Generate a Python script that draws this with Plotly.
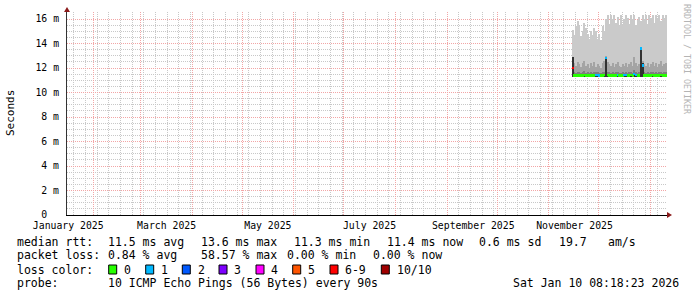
import plotly.graph_objects as go
import pandas as pd
import numpy as np

# ---------------- data ----------------
bin_start = "2025-11-15"
n_bins = 57

rtt_max = [15.1, 14.7, 15.4, 15.8, 15.5, 14.6, 15.0, 15.7, 15.3, 14.8,
           14.4, 15.0, 14.7, 15.3, 15.0, 14.4, 14.8, 14.3, 15.4, 15.0,
           16.0, 16.3, 15.6, 16.3, 16.0, 16.3, 15.7, 16.2, 15.4, 16.3,
           15.5, 16.0, 16.3, 16.1, 15.6, 16.3, 16.0, 16.3, 15.5, 15.9,
           16.2, 15.8, 16.3, 16.0, 16.3, 15.6, 16.3, 16.1, 16.3, 15.7,
           16.3, 16.0, 16.3, 15.8, 16.3, 16.1, 16.3]
rtt_p9 = [12.6, 12.4, 12.2, 12.5, 12.3, 12.1, 12.4, 12.6, 12.2, 12.3,
          12.0, 12.4, 12.2, 12.5, 12.1, 12.3, 12.2, 12.0, 12.4, 12.6,
          13.0, 12.5, 12.3, 12.2, 12.4, 12.1, 12.3, 12.5, 12.2, 12.1,
          12.3, 12.2, 12.4, 12.1, 12.3, 12.5, 12.2, 12.9, 12.4, 12.2,
          12.3, 13.1, 12.6, 12.3, 12.2, 12.4, 12.1, 12.3, 12.5, 12.2,
          12.4, 12.1, 12.3, 12.6, 12.2, 12.3, 12.4]
rtt_p8 = [11.75, 11.65, 11.6, 11.7, 11.65, 11.6, 11.65, 11.75, 11.6, 11.65,
          11.6, 11.65, 11.6, 11.7, 11.65, 11.65, 11.6, 11.6, 11.65, 11.7,
          12.0, 11.7, 11.65, 11.6, 11.65, 11.6, 11.65, 11.7, 11.6, 11.6,
          11.65, 11.6, 11.65, 11.6, 11.65, 11.7, 11.6, 11.8, 11.65, 11.6,
          11.65, 12.1, 11.75, 11.65, 11.6, 11.65, 11.6, 11.65, 11.7, 11.6,
          11.65, 11.6, 11.65, 11.7, 11.6, 11.65, 11.65]
rtt_p7 = [11.52, 11.5, 11.49, 11.5, 11.5, 11.49, 11.5, 11.52, 11.49, 11.5,
          11.49, 11.5, 11.49, 11.5, 11.52, 11.52, 11.49, 11.49, 11.5, 11.52,
          11.8, 11.52, 11.5, 11.49, 11.5, 11.49, 11.5, 11.52, 11.49, 11.49,
          11.5, 11.52, 11.52, 11.49, 11.5, 11.52, 11.49, 11.6, 11.52, 11.49,
          11.5, 11.9, 11.55, 11.5, 11.49, 11.5, 11.49, 11.5, 11.52, 11.49,
          11.5, 11.49, 11.5, 11.52, 11.49, 11.5, 11.5]
rtt_p6 = [12.9, 11.46, 11.45, 11.46, 11.46, 11.45, 11.46, 11.47, 11.45, 11.46,
          11.45, 11.46, 11.45, 11.46, 11.48, 11.48, 11.46, 11.45, 11.46, 11.47,
          12.7, 11.48, 11.46, 11.45, 11.46, 11.45, 11.46, 11.48, 11.45, 11.45,
          11.46, 11.48, 11.48, 11.45, 11.46, 11.47, 11.45, 11.55, 11.48, 11.45,
          11.46, 13.7, 12.4, 11.46, 11.45, 11.46, 11.45, 11.46, 11.47, 11.45,
          11.46, 11.45, 11.46, 11.47, 11.45, 11.46, 11.46]
rtt_median = [12.0, 11.4, 11.38, 11.4, 11.39, 11.37, 11.4, 11.41, 11.38, 11.39,
              11.37, 11.4, 11.38, 11.39, 11.42, 11.42, 11.39, 11.37, 11.4, 11.41,
              12.8, 11.42, 11.39, 11.37, 11.4, 11.38, 11.39, 11.42, 11.38, 11.37,
              11.39, 11.42, 11.42, 11.37, 11.39, 11.41, 11.38, 11.5, 11.42, 11.38,
              11.39, 13.6, 12.2, 11.4, 11.38, 11.39, 11.37, 11.39, 11.41, 11.38,
              11.39, 11.38, 11.39, 11.41, 11.38, 11.39, 11.4]
rtt_min = [11.25, 11.26, 11.25, 11.27, 11.26, 11.24, 11.26, 11.27, 11.25, 11.26,
           11.24, 11.26, 11.25, 11.26, 11.28, 11.28, 11.26, 11.24, 11.26, 11.27,
           11.3, 11.28, 11.26, 11.24, 11.26, 11.25, 11.26, 11.28, 11.25, 11.24,
           11.26, 11.28, 11.28, 11.24, 11.26, 11.27, 11.25, 11.3, 11.28, 11.25,
           11.26, 11.3, 11.28, 11.26, 11.25, 11.26, 11.24, 11.26, 11.27, 11.25,
           11.26, 11.25, 11.26, 11.27, 11.25, 11.26, 11.26]
loss_count = [7, 0, 0, 0, 0, 0, 0, 0, 0, 0,
              0, 0, 0, 0, 1, 1, 1, 0, 0, 0,
              1, 0, 0, 0, 0, 0, 0, 1, 0, 0,
              0, 1, 1, 0, 0, 0, 0, 1, 1, 0,
              0, 1, 1, 0, 0, 0, 0, 0, 0, 0,
              0, 0, 0, 0, 0, 0, 0]

month_starts = ["2025-02-01", "2025-03-01", "2025-04-01", "2025-05-01", "2025-06-01",
                "2025-07-01", "2025-08-01", "2025-09-01", "2025-10-01", "2025-11-01",
                "2025-12-01", "2026-01-01"]
label_dates = ["2025-01-16 18:00", "2025-03-16 18:00", "2025-05-16 12:00",
               "2025-07-16 12:00", "2025-09-16 18:00", "2025-11-16 12:00"]
label_text = ["January 2025", "March 2025", "May 2025", "July 2025",
              "September 2025", "November 2025"]
y_ticks = [0, 2, 4, 6, 8, 10, 12, 14, 16]
y_labels = ["0\u00a0\u00a0", "2 m", "4 m", "6 m", "8 m", "10 m", "12 m", "14 m", "16 m"]

loss_labels = ["0", "1", "2", "3", "4", "5", "6-9", "10/10"]
loss_colors = ["#26ff00", "#00b8ff", "#0059ff", "#7e00ff", "#ff00ff", "#ff5500", "#ff0000", "#a00000"]
smoke_colors = ["#cacaca", "#a4a4a4", "#7e7e7e", "#585858", "#323232"]

# ---------------- geometry ----------------
W, H = 697, 297
L, R, T, B = 67, 30, 12, 82
PW, PH = W - L - R, H - T - B
MONO = "DejaVu Sans Mono"
X_RANGE = ["2025-01-16", "2026-01-11"]
Y_TOP = PH / 12.25


def px(x):
    return (x - L) / PW


def py(y):
    return (T + PH - y) / PH


centers = pd.date_range(bin_start, periods=n_bins, freq="D") + pd.Timedelta(hours=12)
day_ms = 86400000

# minor grid positions (weekly on Mondays, every 0.5 ms)
week_lines = [d.strftime("%Y-%m-%d") for d in pd.date_range("2025-01-20", "2026-01-11", freq="7D")]
y_minor = [float(v) for v in np.arange(0.5, Y_TOP, 0.5) if v % 2 != 0]

fig = go.Figure()
layers = [rtt_max, rtt_p9, rtt_p8, rtt_p7, rtt_p6]
for hi, col in zip(layers, smoke_colors):
    fig.add_bar(x=centers, base=rtt_min, y=[h - l for h, l in zip(hi, rtt_min)],
                width=day_ms, marker=dict(color=col, line=dict(width=0)),
                showlegend=False, hoverinfo="skip")


def loss_idx(c):
    if c <= 5:
        return c
    if c < 10:
        return 6
    return 7


half = 0.1
fig.add_bar(x=centers, base=[m - half for m in rtt_median], y=[2 * half] * n_bins,
            width=day_ms,
            marker=dict(color=[loss_colors[loss_idx(c)] for c in loss_count], line=dict(width=0)),
            showlegend=False, hoverinfo="skip")

# empty trace to register the label axis
fig.add_scatter(x=[], y=[], xaxis="x2", showlegend=False)

red_grid = "#f2a6a6"
grey_grid = "#c8c8c8"
DASH = "1px,1px"

fig.update_layout(
    width=W, height=H, autosize=False,
    margin=dict(l=L, r=R, t=T, b=B),
    paper_bgcolor="white", plot_bgcolor="white",
    barmode="overlay", bargap=0,
    font=dict(family=MONO, size=11.5, color="black"),
    xaxis=dict(type="date", range=X_RANGE,
               tickmode="array", tickvals=month_starts, showticklabels=False,
               showgrid=True, gridcolor=red_grid, griddash=DASH, gridwidth=1,
               minor=dict(tickmode="array", tickvals=week_lines, showgrid=True,
                          gridcolor=grey_grid, griddash=DASH, gridwidth=1, ticks=""),
               showline=True, linecolor="black", linewidth=1, ticks="",
               zeroline=False, fixedrange=True),
    xaxis2=dict(type="date", range=X_RANGE, overlaying="x",
                anchor="y", side="bottom", tickmode="array", tickvals=label_dates,
                ticktext=label_text, showgrid=False, showline=False, ticks="",
                ticklabelstandoff=3,
                tickfont=dict(family=MONO, size=9.8, color="black"), zeroline=False),
    yaxis=dict(range=[0, Y_TOP], tickmode="array", tickvals=y_ticks, ticktext=y_labels,
               showgrid=True, gridcolor=red_grid, griddash=DASH, gridwidth=1,
               minor=dict(tickmode="array", tickvals=y_minor, showgrid=True,
                          gridcolor=grey_grid, griddash=DASH, gridwidth=1, ticks=""),
               showline=True, linecolor="#333333", linewidth=1, ticks="",
               ticklabelstandoff=5,
               tickfont=dict(family=MONO, size=9.8, color="black"),
               zeroline=False, fixedrange=True),
)

ann = []


def text(x, y, s, anchor="left", size=11.5, color="black", angle=0):
    ann.append(dict(x=px(x), y=py(y), xref="paper", yref="paper", text=s, showarrow=False,
                    xanchor=anchor, yanchor="middle", borderpad=0, textangle=angle,
                    font=dict(family=MONO, size=size, color=color)))


# axis title and watermark
text(11, 113, "Seconds", anchor="center", size=11, angle=-90)
text(687, 59, "RRDTOOL / TOBI OETIKER", anchor="center", size=8.3, color="#b4b4b4", angle=90)

# legend rows
r1, r2, r3, r4 = 241.5, 255, 269.5, 283
text(16, r1, "median rtt:")
for x, s in [(107.3, "11.5 ms avg"), (200.3, "13.6 ms max"), (293.3, "11.3 ms min"),
             (385.7, "11.4 ms now"), (478.3, "0.6 ms sd"), (558.3, "19.7"), (606.7, "am/s")]:
    text(x, r1, s)
text(16, r2, "packet loss:")
for x, s in [(107.3, "0.84 % avg"), (200.0, "58.57 % max"), (286.0, "0.00 % min"),
             (372.3, "0.00 % now")]:
    text(x, r2, s)
text(16, r3, "loss color:")
box_x = [108.7, 145.7, 182.3, 219.0, 256.0, 292.7, 330.0, 381.3]
shapes = []
for bx, lab, col in zip(box_x, loss_labels, loss_colors):
    shapes.append(dict(type="rect", xref="paper", yref="paper",
                       x0=px(bx), x1=px(bx + 8), y0=py(r3 + 4.5), y1=py(r3 - 4.5),
                       fillcolor=col, line=dict(color="black", width=1)))
    text(bx + 14.3, r3, lab)
text(16, r4, "probe:")
text(107.3, r4, "10 ICMP Echo Pings (56 Bytes) every 90s")
text(680, r4, "Sat Jan 10 08:18:23 2026", anchor="right")

# axis arrows
arrow_col = "#8b1a1a"
shapes.append(dict(type="path", xref="paper", yref="paper", xsizemode="pixel", ysizemode="pixel",
                   xanchor=0, yanchor=1, path="M -3,0 L 3,0 L 0,5 Z",
                   fillcolor=arrow_col, line=dict(width=0)))
shapes.append(dict(type="path", xref="paper", yref="paper", xsizemode="pixel", ysizemode="pixel",
                   xanchor=1, yanchor=0, path="M 0,-3 L 0,3 L 5,0 Z",
                   fillcolor=arrow_col, line=dict(width=0)))

fig.update_layout(annotations=ann, shapes=shapes)
fig.write_html("out.html")
